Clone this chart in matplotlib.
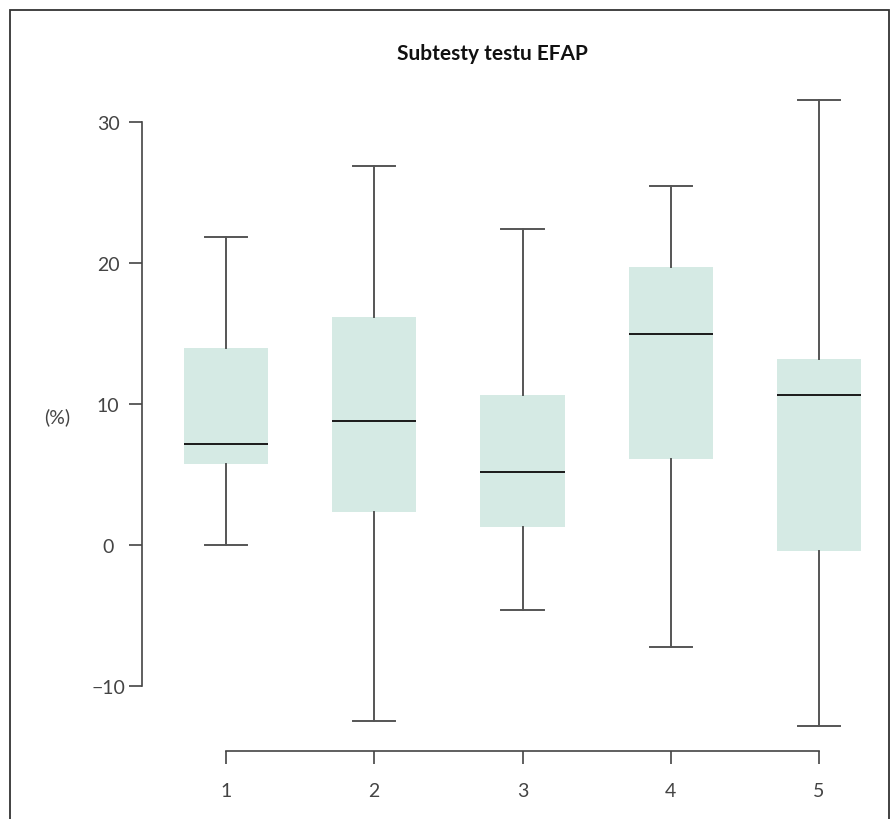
import matplotlib.pyplot as plt
from matplotlib.patches import Rectangle

# Subtests of the EFAP test: box summary values (%)
groups = ["1", "2", "3", "4", "5"]
whisker_low = [0.0, -12.5, -4.6, -7.2, -12.8]
q1 = [5.75, 2.35, 1.3, 6.1, -0.45]
median = [7.15, 8.8, 5.2, 15.0, 10.65]
q3 = [14.0, 16.15, 10.65, 19.7, 13.2]
whisker_high = [21.85, 26.9, 22.45, 25.45, 31.6]
yticks = [-10, 0, 10, 20, 30]

plt.rcParams['font.family'] = ['Lato', 'DejaVu Sans']

fig = plt.figure(figsize=(8.94, 8.2), dpi=100)
ax = fig.add_axes([0.1588, 0.0829, 0.8255, 0.8012])

stats = []
for i, g in enumerate(groups):
    stats.append({
        "label": g,
        "whislo": whisker_low[i],
        "q1": q1[i],
        "med": median[i],
        "q3": q3[i],
        "whishi": whisker_high[i],
        "fliers": [],
    })

positions = list(range(1, len(groups) + 1))
ax.bxp(
    stats,
    positions=positions,
    widths=0.57,
    patch_artist=True,
    showfliers=False,
    boxprops=dict(facecolor="#d5eae4", edgecolor="none", linewidth=0),
    medianprops=dict(color="#1a1a1a", linewidth=1.4),
    whiskerprops=dict(color="#555555", linewidth=1.4),
    capprops=dict(color="#555555", linewidth=1.4),
    capwidths=0.285,
)

ax.set_xlim(0.4334, 5.411)
ax.set_ylim(-14.61, 32)

ax.spines["top"].set_visible(False)
ax.spines["right"].set_visible(False)
ax.spines["left"].set_bounds(-10, 30)
ax.spines["bottom"].set_bounds(1, 5)
for s in ("left", "bottom"):
    ax.spines[s].set_color("#444444")
    ax.spines[s].set_linewidth(1.2)

ax.set_yticks(yticks)
ax.set_yticklabels(["\u221210" if v < 0 else str(v) for v in yticks])
ax.set_xticks(positions)
ax.set_xticklabels(groups)
ax.tick_params(axis="both", length=9.4, width=1.2, color="#444444",
               labelcolor="#444444", labelsize=14)
ax.tick_params(axis="y", pad=15)
ax.tick_params(axis="x", pad=13)
for lab in ax.get_yticklabels():
    lab.set_horizontalalignment("center")
ax.patch.set_visible(False)

fig.text(0.5503, 0.934, "Subtesty testu EFAP", ha="center", va="center",
         fontsize=15, fontweight="bold", color="#111111")
fig.text(0.064, 0.4915, "(%)", ha="center", va="center",
         fontsize=14, color="#444444")

# outer frame around the figure
fig.patches.append(Rectangle((10 / 894, -0.01), 879 / 894, 1 - 11 / 820 + 0.01,
                             transform=fig.transFigure, fill=False,
                             edgecolor="#333333", linewidth=1.3))

fig.savefig("out.png", dpi=100)
